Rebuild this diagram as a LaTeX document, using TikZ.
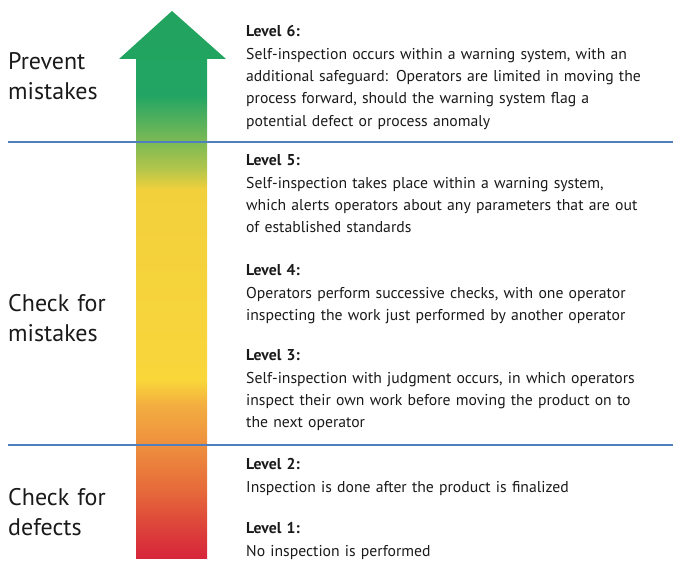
\documentclass[tikz,border=0pt]{standalone}
\usepackage{fontspec}
\setmainfont{PT Sans}
\definecolor{RuleBlue}{HTML}{4F7FBF}
\definecolor{InkBlack}{HTML}{1A1A1A}
\definecolor{ShadeRed}{HTML}{D6253B}
\definecolor{ShadeCoral}{HTML}{DC3F3A}
\definecolor{ShadeOrange}{HTML}{E66A3A}
\definecolor{ShadeAmber}{HTML}{EE8F3E}
\definecolor{ShadeGold}{HTML}{F3AE40}
\definecolor{ShadeYellow}{HTML}{F9D63A}
\definecolor{ShadeSand}{HTML}{F2D03C}
\definecolor{ShadeLime}{HTML}{B5C64A}
\definecolor{ShadeLeaf}{HTML}{7AB955}
\definecolor{ShadeGreen}{HTML}{22A564}
\definecolor{ShadeDeep}{HTML}{22A35E}
\pgfdeclareverticalshading{LevelShade}{100bp}{
  color(0bp)=(ShadeRed); color(25bp)=(ShadeRed);
  color(27.6bp)=(ShadeCoral); color(31.3bp)=(ShadeOrange);
  color(35.4bp)=(ShadeAmber); color(39.1bp)=(ShadeGold);
  color(41.3bp)=(ShadeYellow); color(58.7bp)=(ShadeSand);
  color(60.5bp)=(ShadeLime); color(63.2bp)=(ShadeLeaf);
  color(67.3bp)=(ShadeGreen); color(75bp)=(ShadeDeep);
  color(100bp)=(ShadeDeep)}
\newcommand{\lvlfont}{\fontsize{15.7}{22.3}\selectfont}
\newcommand{\sidefont}{\fontsize{24}{30}\selectfont}
\tikzset{
  sidelabel/.style={anchor=base west, text width=120pt, align=left,
                    inner sep=0pt, text=InkBlack, font=\sidefont},
  levelbox/.style={anchor=base west, text width=420pt, align=left,
                   inner sep=0pt, text=InkBlack, font=\lvlfont},
  rule/.style={draw=RuleBlue, line width=1.4pt}
}

\begin{document}
\begin{tikzpicture}[x=1pt,y=-1pt]
        \useasboundingbox (0,0) rectangle (673,561);
        % the arrow
        \shade[shading=LevelShade] (136,559) -- (136,59) -- (119,59)
          -- (172,11) -- (226,59) -- (207,59) -- (207,559) -- cycle;
        % separators
        \draw[rule] (8,142) -- (673,142);
        \draw[rule] (8,445) -- (673,445);
        % left labels
        \node[sidelabel] (prevent) at (8,70) {Prevent\\mistakes};
        \node[sidelabel] (checkmistakes) at (8,312) {Check for\\mistakes};
        \node[sidelabel] (checkdefects) at (8,506) {Check for\\defects};
        % levels
        \node[levelbox] (lvl6) at (246,37) {
          \textbf{Level 6:}\\
          Self-inspection occurs within a warning system, with an\\
          additional safeguard: Operators are limited in moving the\\
          process forward, should the warning system flag a\\
          potential defect or process anomaly};
        \node[levelbox] (lvl5) at (246,166) {
          \textbf{Level 5:}\\
          Self-inspection takes place within a warning system,\\
          which alerts operators about any parameters that are out\\
          of established standards};
        \node[levelbox] (lvl4) at (246,276) {
          \textbf{Level 4:}\\
          Operators perform successive checks, with one operator\\
          inspecting the work just performed by another operator};
        \node[levelbox] (lvl3) at (246,361) {
          \textbf{Level 3:}\\
          Self-inspection with judgment occurs, in which operators\\
          inspect their own work before moving the product on to\\
          the next operator};
        \node[levelbox] (lvl2) at (246,470) {
          \textbf{Level 2:}\\
          Inspection is done after the product is finalized};
        \node[levelbox] (lvl1) at (246,534) {
          \textbf{Level 1:}\\
          No inspection is performed};
      \end{tikzpicture}
\end{document}
